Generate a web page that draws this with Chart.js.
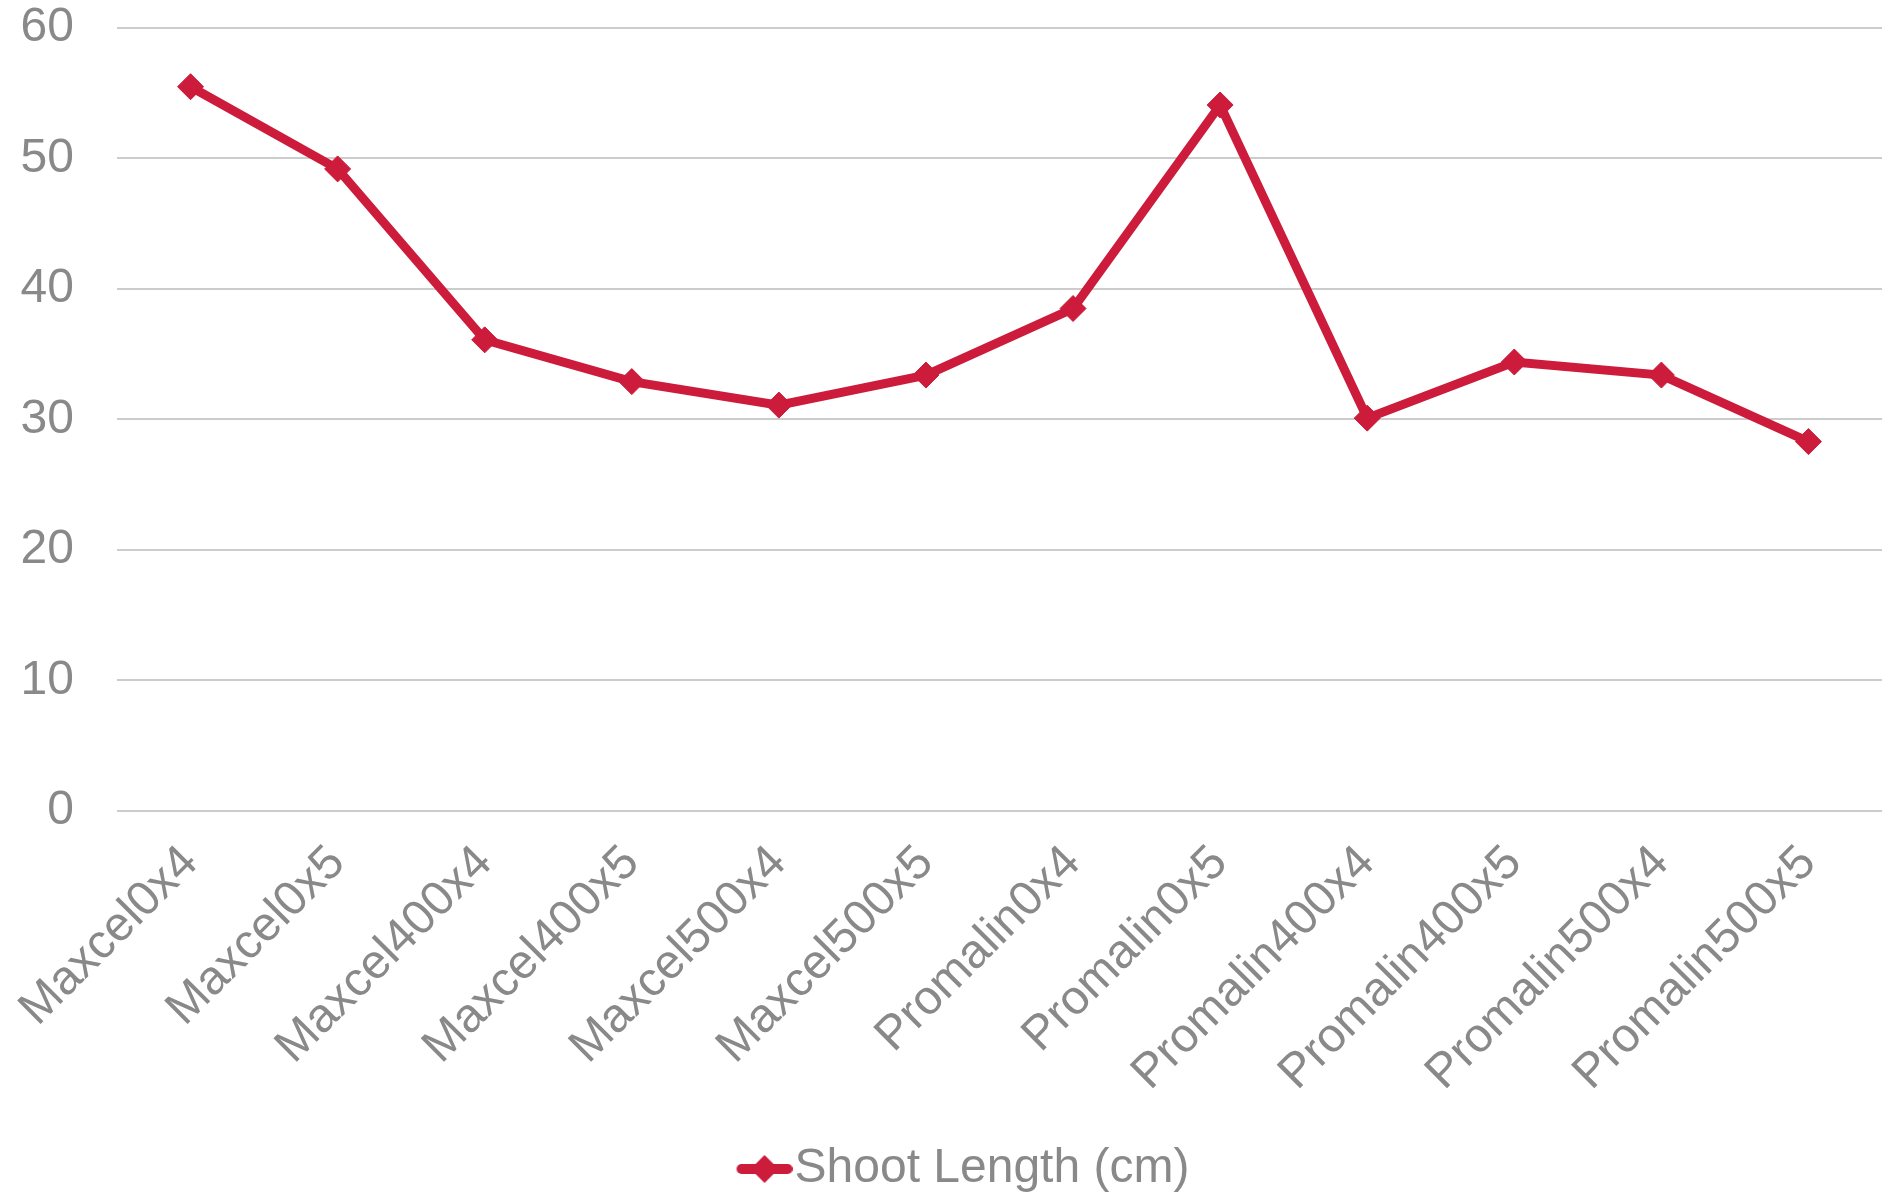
<!DOCTYPE html>
<html>
<head>
<meta charset="utf-8">
<script src="https://cdn.jsdelivr.net/npm/chart.js@4/dist/chart.umd.min.js"></script>
<style>
  html, body { margin: 0; padding: 0; background: #ffffff; overflow: hidden; }
  #wrap { position: relative; width: 1882px; height: 1194px; }
  #chart { display: block; }
</style>
</head>
<body>
<div id="wrap"><canvas id="chart"></canvas></div>
<script>
// treatments along the x axis
var categories = ['Maxcel0x4', 'Maxcel0x5', 'Maxcel400x4', 'Maxcel400x5', 'Maxcel500x4', 'Maxcel500x5',
                  'Promalin0x4', 'Promalin0x5', 'Promalin400x4', 'Promalin400x5', 'Promalin500x4', 'Promalin500x5'];
// shoot length values
var shootLength = [55.5, 49.2, 36.1, 32.9, 31.1, 33.4, 38.5, 54.1, 30.1, 34.4, 33.4, 28.3];
var seriesName = 'Shoot Length (cm)';
var yTicks = [0, 10, 20, 30, 40, 50, 60];

var red = '#CC1B3B';
var grey = '#898989';
var fontFamily = '"Liberation Sans", Arial, sans-serif';

// legend icon: short line with a diamond, drawn in the right part of a wider
// transparent canvas so that the legend entry sits a bit right of centre
function legendIcon() {
    var c = document.createElement('canvas');
    c.width = 102; c.height = 30;
    var g = c.getContext('2d');
    g.strokeStyle = red;
    g.lineWidth = 10;
    g.lineCap = 'round';
    g.beginPath(); g.moveTo(51, 15); g.lineTo(97, 15); g.stroke();
    g.fillStyle = red;
    g.beginPath(); g.moveTo(74, 1); g.lineTo(88, 15); g.lineTo(74, 29); g.lineTo(60, 15); g.closePath(); g.fill();
    return c;
}
var icon = legendIcon();

var ctx = document.getElementById('chart');
new Chart(ctx, {
    type: 'line',
    data: {
        labels: categories,
        datasets: [{
            label: seriesName,
            data: shootLength,
            borderColor: red,
            backgroundColor: red,
            borderWidth: 9,
            pointStyle: 'rectRot',
            pointRadius: 13,
            pointBorderWidth: 1,
            pointBackgroundColor: red,
            pointBorderColor: red,
            tension: 0,
            fill: false
        }]
    },
    options: {
        responsive: true,
        maintainAspectRatio: false,
        animation: false,
        layout: { autoPadding: false, padding: { left: 20, right: 0, top: 28, bottom: -9 } },
        scales: {
            x: {
                offset: true,
                grid: { display: false, drawTicks: false },
                border: { display: false },
                ticks: {
                    autoSkip: false,
                    maxRotation: 45,
                    minRotation: 45,
                    padding: 24,
                    color: grey,
                    font: { family: fontFamily, size: 48 }
                },
                afterFit: function (axis) {
                    axis.paddingLeft = 0;
                    axis.paddingRight = 0;
                    axis.height += 19;
                }
            },
            y: {
                min: 0,
                max: 60,
                afterBuildTicks: function (axis) {
                    axis.ticks = yTicks.map(function (v) { return { value: v }; });
                },
                grid: { color: '#cccccc', lineWidth: 2, drawTicks: false },
                border: { display: false },
                ticks: {
                    padding: 43,
                    color: grey,
                    font: { family: fontFamily, size: 48 }
                },
                afterFit: function (axis) {
                    axis.width = 97;
                    axis.paddingTop = 0;
                    axis.paddingBottom = 0;
                }
            }
        },
        plugins: {
            legend: {
                position: 'bottom',
                labels: {
                    usePointStyle: true,
                    pointStyleWidth: 58,
                    color: grey,
                    padding: 0,
                    font: { family: fontFamily, size: 48 },
                    generateLabels: function (chart) {
                        var items = Chart.defaults.plugins.legend.labels.generateLabels(chart);
                        items.forEach(function (it) { it.pointStyle = icon; });
                        return items;
                    }
                }
            },
            tooltip: { enabled: false }
        }
    }
});
</script>
</body>
</html>
